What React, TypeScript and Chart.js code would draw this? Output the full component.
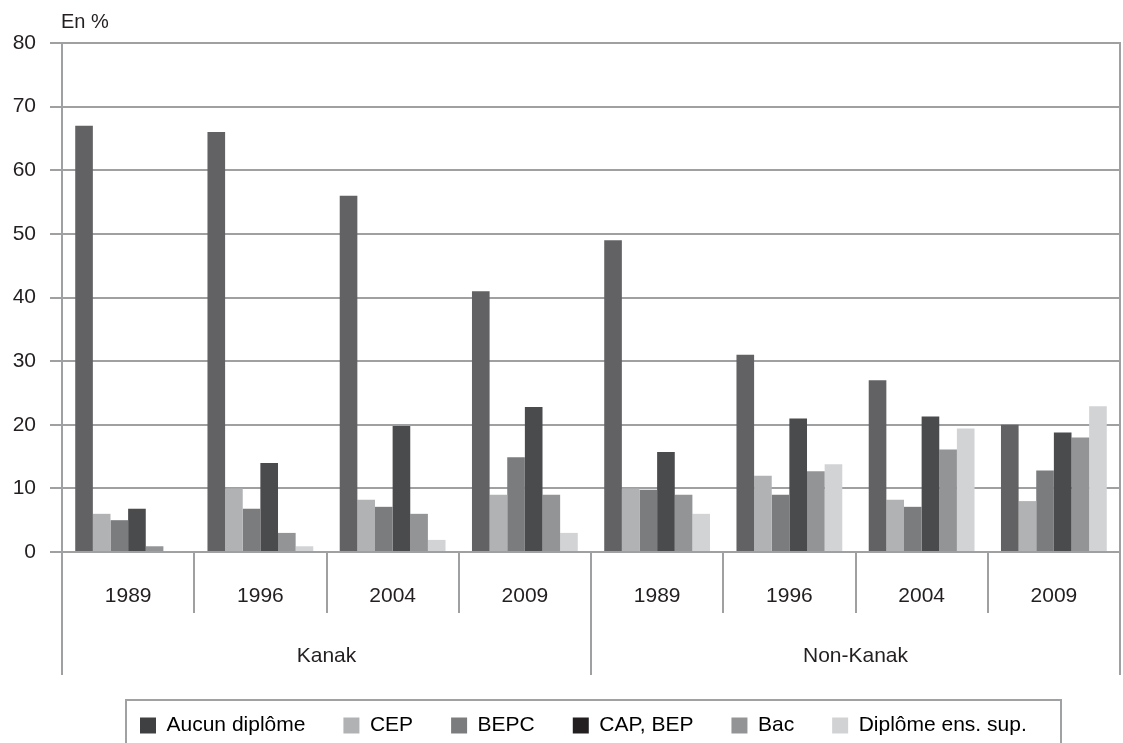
import React, { useEffect, useRef } from "react";
import { Chart, registerables } from "chart.js";

Chart.register(...registerables);

const groups = ["Kanak", "Non-Kanak"];
const years = ["1989", "1996", "2004", "2009"];
const seriesNames = ["Aucun diplôme", "CEP", "BEPC", "CAP, BEP", "Bac", "Diplôme ens. sup."];

const aucunDiplome = [67, 66, 56, 41, 49, 31, 27, 20];
const cep = [6, 10, 8.2, 9, 10, 12, 8.2, 8];
const bepc = [5, 6.8, 7.1, 14.9, 9.8, 9, 7.1, 12.8];
const capBep = [6.8, 14, 19.8, 22.8, 15.7, 21, 21.3, 18.8];
const bac = [0.9, 3, 6, 9, 9, 12.7, 16.1, 18];
const diplomeSup = [0.15, 0.9, 1.9, 3, 6, 13.8, 19.4, 22.9];

const seriesValues = [aucunDiplome, cep, bepc, capBep, bac, diplomeSup];
const barColors = ["#626264", "#b1b2b4", "#7b7c7e", "#4a4b4d", "#939496", "#d2d3d5"];
const legendColors = ["#3f4042", "#b1b2b4", "#7b7c7e", "#231f20", "#939496", "#d1d2d4"];

const LINE = "#9fa0a2";
const TEXT = "#231f20";
const FONT = '"Liberation Sans", Arial, sans-serif';

const labels: string[] = [];
groups.forEach(() => years.forEach((y) => labels.push(y)));

const LEGEND_PAD = 38;

const hierPlugin = {
  id: "hierAxis",
  beforeDraw(chart: any) {
    const lg = chart.legend;
    if (lg) {
      lg.left = 140 - LEGEND_PAD;
      lg.right = chart.width;
      lg.top = chart.height - lg.height + 3;
    }
  },
  afterDraw(chart: any) {
    const ctx = chart.ctx;
    const xs = chart.scales.x;
    const ca = chart.chartArea;
    const n = labels.length;
    const per = years.length;
    ctx.save();
    ctx.strokeStyle = LINE;
    ctx.lineWidth = 2;
    const yearBottom = ca.bottom + 61;
    const groupBottom = ca.bottom + 123;
    for (let i = 0; i <= n; i++) {
      const px = Math.round(xs.getPixelForValue(i - 0.5));
      const isGroup = i % per === 0;
      ctx.beginPath();
      ctx.moveTo(px, i === n ? ca.top - 1 : ca.bottom);
      ctx.lineTo(px, isGroup ? groupBottom : yearBottom);
      ctx.stroke();
    }
    ctx.fillStyle = TEXT;
    ctx.font = "21px " + FONT;
    ctx.textAlign = "center";
    ctx.textBaseline = "middle";
    for (let i = 0; i < n; i++) {
      ctx.fillText(labels[i], xs.getPixelForValue(i), ca.bottom + 44);
    }
    groups.forEach((g, gi) => {
      const a = xs.getPixelForValue(gi * per - 0.5);
      const b = xs.getPixelForValue((gi + 1) * per - 0.5);
      ctx.fillText(g, (a + b) / 2, ca.bottom + 104);
    });
    ctx.font = "20px " + FONT;
    ctx.textAlign = "left";
    ctx.fillText("En %", ca.left - 1, ca.top - 21);
    // legend frame
    const lg = chart.legend;
    if (lg) {
      const top = lg.top + 23;
      ctx.strokeStyle = "#a0a1a3";
      ctx.beginPath();
      ctx.moveTo(126, chart.height + 2);
      ctx.lineTo(126, top);
      ctx.lineTo(1061, top);
      ctx.lineTo(1061, chart.height + 2);
      ctx.stroke();
    }
    ctx.restore();
  },
};

export default function App() {
  const ref = useRef<HTMLCanvasElement | null>(null);
  useEffect(() => {
    if (!ref.current) return;
    const chart = new Chart(ref.current, {
      type: "bar",
      data: {
        labels,
        datasets: seriesNames.map((name, i) => ({
          label: name,
          data: seriesValues[i],
          backgroundColor: barColors[i],
          borderWidth: 0,
          categoryPercentage: 0.8,
          barPercentage: 1.0,
        })),
      },
      options: {
        responsive: false,
        animation: false,
        layout: { padding: { top: 43, right: 3, left: 0, bottom: 0 } },
        plugins: {
          tooltip: { enabled: false },
          title: { display: false },
          legend: {
            display: true,
            position: "bottom",
            align: "start",
            labels: {
              boxWidth: 16,
              boxHeight: 16,
              padding: LEGEND_PAD,
              color: TEXT,
              font: { size: 21, family: FONT },
              generateLabels: () =>
                seriesNames.map((name, i) => ({
                  text: name,
                  fillStyle: legendColors[i],
                  strokeStyle: legendColors[i],
                  lineWidth: 0,
                  hidden: false,
                  datasetIndex: i,
                })),
            },
          },
        },
        scales: {
          x: {
            type: "category",
            offset: true,
            grid: { display: false },
            border: { display: false },
            ticks: { display: false },
            afterFit: (s: any) => {
              s.height = 122;
            },
          },
          y: {
            min: 0,
            max: 80,
            ticks: {
              stepSize: 10,
              color: TEXT,
              padding: 14,
              font: { size: 21, family: FONT },
            },
            grid: { color: LINE, lineWidth: 2, tickLength: 12 },
            border: { display: true, color: LINE, width: 2 },
            afterFit: (s: any) => {
              s.width = 62;
            },
          },
        },
      },
      plugins: [hierPlugin],
    });
    return () => chart.destroy();
  }, []);
  return (
    <div style={{ position: "fixed", left: 0, top: 0, width: 1123, height: 743, background: "#fff" }}>
      <canvas ref={ref} width={1123} height={743} style={{ display: "block" }} />
    </div>
  );
}
